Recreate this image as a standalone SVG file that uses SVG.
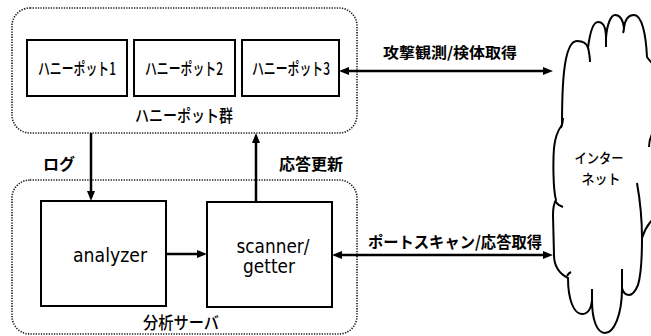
<svg xmlns="http://www.w3.org/2000/svg" width="651" height="336" viewBox="0 0 651 336">
<style>
.grp{fill:none;stroke:#1a1a1a;stroke-width:1.6;stroke-dasharray:1.3 1.3}
.box{fill:#fff;stroke:#000;stroke-width:2}
.jp{font-family:"Noto Sans CJK JP","Noto Sans",sans-serif;fill:#000}
.m{font-weight:500}
.lat{font-family:"DejaVu Sans",sans-serif;fill:#000}
.b{font-weight:bold}
.con{stroke:#000;stroke-width:2.5;fill:none}
.cloud{fill:#fff;stroke:#000;stroke-width:2;stroke-linejoin:round}
.tick{fill:none;stroke:#000;stroke-width:2}
</style>
<defs>
<marker id="ah" viewBox="0 0 10 8" refX="2" refY="4" markerWidth="10" markerHeight="8" markerUnits="userSpaceOnUse" orient="auto-start-reverse">
<path d="M0,0 L10,4 L0,8 z" fill="#000"/>
</marker>
</defs>
<rect width="651" height="336" fill="#fff"/>

<g id="honeypot-group">
<rect class="grp" x="12" y="8" width="345" height="125" rx="18"/>
<text class="jp m" x="184" y="122" font-size="17" text-anchor="middle" textLength="98" lengthAdjust="spacingAndGlyphs">ハニーポット群</text>
</g>
<g id="honeypot1">
<rect class="box" x="27" y="40" width="100" height="56"/>
<text class="jp m" x="77" y="75" font-size="17" text-anchor="middle" textLength="78" lengthAdjust="spacingAndGlyphs">ハニーポット1</text>
</g>
<g id="honeypot2">
<rect class="box" x="134" y="40" width="101" height="56"/>
<text class="jp m" x="184" y="75" font-size="17" text-anchor="middle" textLength="78" lengthAdjust="spacingAndGlyphs">ハニーポット2</text>
</g>
<g id="honeypot3">
<rect class="box" x="242" y="40" width="97" height="56"/>
<text class="jp m" x="291" y="75" font-size="17" text-anchor="middle" textLength="78" lengthAdjust="spacingAndGlyphs">ハニーポット3</text>
</g>

<g id="server-group">
<rect class="grp" x="12" y="180" width="345" height="154" rx="18"/>
<text class="jp m" x="181" y="329" font-size="17" text-anchor="middle" textLength="76" lengthAdjust="spacingAndGlyphs">分析サーバ</text>
</g>
<g id="analyzer">
<rect class="box" x="41" y="201" width="125" height="105"/>
<text class="lat" x="110" y="262" font-size="19" text-anchor="middle" textLength="74" lengthAdjust="spacingAndGlyphs">analyzer</text>
</g>
<g id="scanner">
<rect class="box" x="207" y="202" width="125" height="105"/>
<text class="lat" x="273" y="253" font-size="19" text-anchor="middle" textLength="73" lengthAdjust="spacingAndGlyphs">scanner/</text>
<text class="lat" x="269" y="273" font-size="19" text-anchor="middle" textLength="52" lengthAdjust="spacingAndGlyphs">getter</text>
</g>

<g id="internet">
<path class="cloud" d="M582,314 C574,314 568,300 568,278 C560,274 554,268 554,255 L553,215 C553,208 554,203 556,200 C553,190 553,160 554,148 C555,138 558,130 562,125 C562,90 563,41 577,41 C583,41 587,44 588,48 C590,32 593,22 598,22 C603,22 606,28 606,38 C607,24 611,15 615,15 C620,15 623,20 624,28 C625,19 629,15 634,15 C642,15 646,35 647,57 C649,60 652,64 660,70 L660,215 C655,215 646,225 642,238 C642,255 641,275 638,285 C635,292 632,295 629,295 C625,295 623,292 622,288 C622,315 614,333 605,333 C597,333 592,320 592,300 C591,310 587,314 582,314 Z"/>
<path class="tick" d="M567,276 C568,274 569,273 571,272"/>
<path class="tick" d="M555,201 C557,204 560,206 563,207"/>
<path class="tick" d="M561,128 C562,125 563,122 563,118"/>
<path class="tick" d="M588,47 C589,52 590,57 590,62"/>
<path class="tick" d="M606,37 C606,40 606,44 606,47"/>
<path class="tick" d="M624,27 C624,29 624,31 623,33"/>
<path class="tick" d="M652,134 C650,138 649,143 649,147"/>
<path class="tick" d="M637,183 C640,200 642,220 642,238"/>
<path class="tick" d="M622,288 C622,282 622,276 622,269"/>
<path class="tick" d="M592,300 C592,296 592,292 592,289"/>
<text class="jp m" x="599" y="163" font-size="14" text-anchor="middle" textLength="49" lengthAdjust="spacingAndGlyphs">インター</text>
<text class="jp m" x="601" y="184" font-size="14" text-anchor="middle" textLength="39" lengthAdjust="spacingAndGlyphs">ネット</text>
</g>

<g id="connectors">
<line class="con" x1="91" y1="133" x2="91" y2="193" marker-end="url(#ah)"/>
<line class="con" x1="256" y1="202" x2="256" y2="141" marker-end="url(#ah)"/>
<line class="con" x1="166" y1="254" x2="199" y2="254" marker-end="url(#ah)"/>
<line class="con" x1="347" y1="71" x2="545" y2="71" marker-start="url(#ah)" marker-end="url(#ah)"/>
<line class="con" x1="340" y1="255" x2="545" y2="255" marker-start="url(#ah)" marker-end="url(#ah)"/>
<text class="jp b" x="59" y="170" font-size="16" text-anchor="middle">ログ</text>
<text class="jp b" x="311" y="170" font-size="16" text-anchor="middle">応答更新</text>
<text class="jp b" x="450" y="58" font-size="15" text-anchor="middle" textLength="134" lengthAdjust="spacingAndGlyphs">攻撃観測/検体取得</text>
<text class="jp b" x="455" y="248" font-size="16" text-anchor="middle" textLength="174" lengthAdjust="spacingAndGlyphs">ポートスキャン/応答取得</text>
</g>
</svg>
